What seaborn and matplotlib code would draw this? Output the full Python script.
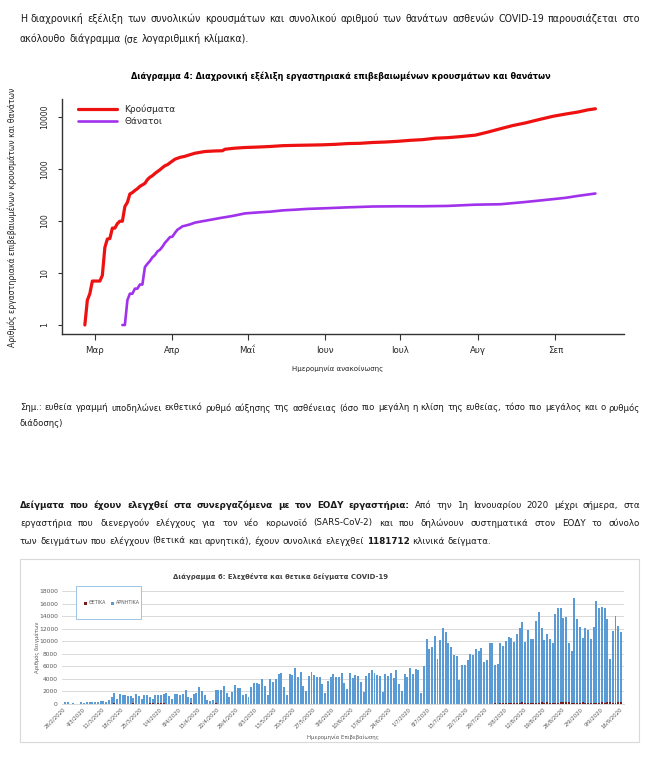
import numpy as np
import pandas as pd
import matplotlib
matplotlib.use('Agg')
import matplotlib.pyplot as plt
from matplotlib.patches import Rectangle
from matplotlib.ticker import NullLocator
import seaborn as sns

# ---- data: chart 4 (cumulative cases / deaths, log scale) ----
cases_dates = ['2020-02-26', '2020-02-27', '2020-02-28', '2020-02-29', '2020-03-01', '2020-03-02',
               '2020-03-03', '2020-03-04', '2020-03-05', '2020-03-06', '2020-03-07', '2020-03-08',
               '2020-03-09', '2020-03-10', '2020-03-11', '2020-03-12', '2020-03-13', '2020-03-14',
               '2020-03-15', '2020-03-16', '2020-03-17', '2020-03-18', '2020-03-19', '2020-03-20',
               '2020-03-21', '2020-03-22', '2020-03-23', '2020-03-24', '2020-03-25', '2020-03-26',
               '2020-03-27', '2020-03-28', '2020-03-29', '2020-03-30', '2020-03-31', '2020-04-02',
               '2020-04-04', '2020-04-06', '2020-04-08', '2020-04-10', '2020-04-14', '2020-04-18',
               '2020-04-21', '2020-04-22', '2020-04-26', '2020-04-30', '2020-05-05', '2020-05-10',
               '2020-05-15', '2020-05-20', '2020-05-25', '2020-05-31', '2020-06-05', '2020-06-10',
               '2020-06-15', '2020-06-20', '2020-06-25', '2020-06-30', '2020-07-05', '2020-07-10',
               '2020-07-15', '2020-07-20', '2020-07-25', '2020-07-31', '2020-08-05', '2020-08-10',
               '2020-08-15', '2020-08-20', '2020-08-25', '2020-08-31', '2020-09-05', '2020-09-10',
               '2020-09-14', '2020-09-17']
cases = [1, 3, 4, 7, 7, 7, 7, 9, 31, 45, 46, 73, 73, 89, 99, 99, 190, 228, 331, 352, 387, 418,
         464, 495, 530, 624, 695, 743, 821, 892, 966, 1061, 1156, 1212, 1314, 1544, 1673, 1755,
         1884, 2011, 2170, 2224, 2245, 2401, 2517, 2591, 2642, 2710, 2810, 2850, 2878, 2917,
         2980, 3083, 3121, 3237, 3302, 3409, 3562, 3672, 3910, 4007, 4193, 4477, 5123, 5942,
         6858, 7684, 8819, 10317, 11386, 12452, 13730, 14400]

deaths_dates = ['2020-03-12', '2020-03-13', '2020-03-14', '2020-03-15', '2020-03-16', '2020-03-17',
                '2020-03-18', '2020-03-19', '2020-03-20', '2020-03-21', '2020-03-22', '2020-03-23',
                '2020-03-24', '2020-03-25', '2020-03-26', '2020-03-27', '2020-03-28', '2020-03-29',
                '2020-03-30', '2020-03-31', '2020-04-01', '2020-04-02', '2020-04-03', '2020-04-04',
                '2020-04-05', '2020-04-06', '2020-04-08', '2020-04-10', '2020-04-13', '2020-04-16',
                '2020-04-20', '2020-04-25', '2020-04-30', '2020-05-05', '2020-05-10', '2020-05-15',
                '2020-05-20', '2020-05-25', '2020-05-31', '2020-06-10', '2020-06-20', '2020-06-30',
                '2020-07-10', '2020-07-20', '2020-07-31', '2020-08-10', '2020-08-20', '2020-08-31',
                '2020-09-05', '2020-09-10', '2020-09-17']
deaths = [1, 1, 3, 4, 4, 5, 5, 6, 6, 13, 15, 17, 20, 22, 26, 28, 32, 38, 43, 49, 50, 59, 68, 73,
          79, 81, 86, 93, 99, 105, 114, 125, 140, 146, 151, 160, 165, 171, 175, 183, 190, 192,
          192, 195, 206, 210, 232, 263, 279, 304, 338]

month_ticks = ['2020-03-01', '2020-04-01', '2020-05-01', '2020-06-01', '2020-07-01', '2020-08-01', '2020-09-01']
month_labels = ['Μαρ', 'Απρ', 'Μαΐ', 'Ιουν', 'Ιουλ', 'Αυγ', 'Σεπ']
log_ticks = [1, 10, 100, 1000, 10000]

# ---- data: chart 6 (daily tests, 26/2 - 16/9) ----
negatives = [
    300, 280, 0, 200, 0, 0, 250, 220, 260, 250, 300, 330, 350, 400, 450,
    380, 600, 1130, 1620, 810, 1570, 1460, 1460, 1300, 1300, 810, 1500, 1300, 650, 1300, 1400,
    1030, 760, 1300, 1300, 1400, 1500, 1730, 1190, 760, 1570, 1570, 1460, 1460, 2100, 1190, 810,
    1620, 1780, 2650, 2100,
    1460, 650, 490, 650, 2000, 2200, 2200, 2900, 1680, 1030, 1950, 3080, 2600, 2600, 1400, 1570,
    1080, 2700, 3350, 3300, 3240, 4000, 2860, 1350, 3900, 3570, 3900, 4700, 4970, 2700, 1460,
    4700, 4540, 5680, 4320, 5130, 2920, 2050, 4380, 5130, 4540, 4320, 4320, 3130, 1730, 3570,
    4320, 4810, 4320, 4220, 4860,
    3360, 2400, 4960, 4100, 4640, 4370, 3570, 1970, 4530, 4960, 5440, 4960, 4530, 4370, 1970,
    4800, 4430, 4960, 4160, 5440, 3200, 2080, 4800, 4270, 5760, 4800, 5600, 5330, 1760, 5970,
    10300, 8800, 9000, 10770, 7200, 10240, 12160, 11360, 9760, 9070, 7840, 7570, 3840, 6130,
    6240, 7040, 8000, 7730, 8800, 8430, 8800, 6670, 6930, 9600,
    9600, 6130, 6290, 9600, 9230, 9870, 10560, 10400, 9760, 10930, 12000, 12800, 9760, 11570,
    10080, 10080, 12960, 14560, 11840, 9970, 10830, 10130, 9440, 14130, 15090, 14930, 13490,
    13490, 9490, 8270, 16690, 13330, 12110, 10290, 11890, 11630, 10130, 12110, 16270, 15040,
    15040, 15040, 13230, 6930, 11470, 13870, 12110, 11090,
]
positives = [
    1, 2, 1, 0, 3, 0, 0, 2, 22, 14, 21, 7, 11, 5, 10, 18, 73, 38, 103, 21, 35,
    31, 46, 31, 35, 94, 71, 48, 78, 71, 74, 95, 95, 56, 102, 101, 129, 69, 60, 62, 20, 77,
    52, 71, 56, 0, 103, 25, 22, 24, 29, 40, 22, 27, 10, 156, 0, 60, 10, 15, 11, 12, 14,
    25, 15, 21, 9, 9, 4, 10, 15, 16, 11, 10, 6, 16, 12, 3, 25, 10, 5, 6, 9, 4,
    3, 4, 3, 5, 0, 10, 9, 3, 3, 10, 2, 1, 15, 4, 35, 17, 4, 55, 3, 0, 6,
    30, 23, 12, 7, 9, 1, 1, 29, 24, 30, 20, 17, 6, 4, 16, 21, 10, 19, 25, 6, 15,
    7, 43, 24, 11, 8, 12, 18, 13, 21, 9, 30, 26, 15, 35, 24, 44, 27, 23, 27, 15, 31,
    34, 30, 28, 35, 36, 42, 26, 41, 78, 50, 110, 41, 121, 80, 124, 123, 153, 151, 203, 126, 262,
    168, 176, 230, 217, 211, 158, 269, 193, 284, 228, 202, 177, 163, 293,
    250, 293, 246, 185, 165, 202, 156, 244, 198, 163, 168, 183, 99, 203,
    372, 211, 250, 273, 159, 222, 345, 338,
]
test_days = pd.date_range('2020-02-26', '2020-09-16', freq='D')
test_labels = [f'{d.day}/{d.month}/{d.year}' for d in test_days]
test_ticks = [0, 18000, 2000]

# ---- page text ----
intro = [('Η διαχρονική εξέλιξη των συνολικών κρουσμάτων και συνολικού αριθμού των θανάτων '
          'ασθενών COVID-19 παρουσιάζεται στο', 'normal')]
intro2 = [('ακόλουθο διάγραμμα (σε λογαριθμική κλίμακα).', 'normal')]
note1 = [('Σημ.: ευθεία γραμμή υποδηλώνει εκθετικό ρυθμό αύξησης της ασθένειας (όσο πιο μεγάλη η '
          'κλίση της ευθείας, τόσο πιο μεγάλος και ο ρυθμός', 'normal')]
note2 = [('διάδοσης)', 'normal')]
para1 = [('Δείγματα που έχουν ελεγχθεί στα συνεργαζόμενα με τον ΕΟΔΥ εργαστήρια:', 'bold'),
         ('Από την 1η Ιανουαρίου 2020 μέχρι σήμερα, στα', 'normal')]
para2 = [('εργαστήρια που διενεργούν ελέγχους για τον νέο κορωνοϊό (SARS-CoV-2) και που δηλώνουν '
          'συστηματικά στον ΕΟΔΥ το σύνολο', 'normal')]
para3 = [('των δειγμάτων που ελέγχουν (θετικά και αρνητικά), έχουν συνολικά ελεγχθεί', 'normal'),
         ('1181712', 'bold'), ('κλινικά δείγματα.', 'normal')]

RED = '#ee1111'
PURPLE = '#a032ec'
BLUE = '#5b9bd5'
DARKRED = '#7b1c1c'
TXT = '#1a1a1a'
XLGRAY = '#595959'

sns.set_theme(style='white')
plt.rcParams['font.family'] = ['DejaVu Sans']

W, H = 648, 768
fig = plt.figure(figsize=(W / 100, H / 100), dpi=100)
renderer = fig.canvas.get_renderer()


def fy(y):
    return 1 - y / H


def box(left, top, right, bottom):
    return [left / W, 1 - bottom / H, (right - left) / W, (bottom - top) / H]


def split_words(segments):
    words = []
    for s, wt in segments:
        words += [(w, wt) for w in s.split()]
    return words


def space_width(size):
    a = fig.text(0, 0, 'a a', fontsize=size)
    b = fig.text(0, 0, 'aa', fontsize=size)
    gap = a.get_window_extent(renderer).width - b.get_window_extent(renderer).width
    a.remove()
    b.remove()
    return gap


def block_size(segments, target, size=10):
    # font size for which the line's natural width equals target
    words = split_words(segments)
    total = 0
    for w, wt in words:
        t = fig.text(0, 0, w, fontsize=size, fontweight=wt)
        total += t.get_window_extent(renderer).width
        t.remove()
    total += space_width(size) * (len(words) - 1)
    return size * target / total


def text_line(segments, y, justify, size, x0=20, x1=640):
    words = split_words(segments)
    arts, widths = [], []
    for w, wt in words:
        t = fig.text(0, fy(y), w, fontsize=size, fontweight=wt, va='center', color=TXT)
        arts.append(t)
        widths.append(t.get_window_extent(renderer).width)
    if justify:
        gap = (x1 - x0 - sum(widths)) / (len(words) - 1)
    else:
        gap = space_width(size)
    x = x0
    for t, w in zip(arts, widths):
        t.set_x(x / W)
        x += w + gap


def fit_text(s, xc, y, length, size=7, rotation=0, **kw):
    t = fig.text(xc / W, fy(y), s, fontsize=size, rotation=rotation, ha='center', va='center', **kw)
    ext = t.get_window_extent(renderer)
    cur = ext.height if rotation == 90 else ext.width
    t.set_fontsize(size * length / cur)
    return t


# ---- text blocks ----
s_intro = block_size(intro, 610)
text_line(intro, 19, True, s_intro)
text_line(intro2, 39, False, s_intro)
s_note = block_size(note1, 612)
text_line(note1, 408, True, s_note)
text_line(note2, 424, False, s_note)
s_para = block_size(para3, 468)
text_line(para1, 505, True, s_para)
text_line(para2, 523, True, s_para)
text_line(para3, 541, False, s_para)

# ---- chart 4 ----
ax1 = fig.add_axes(box(62, 99, 624, 334))
sns.lineplot(x=pd.to_datetime(cases_dates), y=cases, color=RED, lw=2.3, label='Κρούσματα', ax=ax1)
sns.lineplot(x=pd.to_datetime(deaths_dates), y=deaths, color=PURPLE, lw=1.9, label='Θάνατοι', ax=ax1)
ax1.set_yscale('log')
ax1.set_ylim(0.671, 22200)
ax1.set_xlim(pd.Timestamp('2020-02-16 21:00'), pd.Timestamp('2020-09-28 10:00'))
ax1.set_yticks(log_ticks)
ax1.set_yticklabels([str(v) for v in log_ticks], rotation=90, va='center')
ax1.yaxis.set_minor_locator(NullLocator())
ax1.set_xticks(pd.to_datetime(month_ticks))
ax1.set_xticklabels(month_labels)
ax1.tick_params(axis='y', length=3, width=0.8, pad=6, labelsize=5.6, color='#333333', left=True)
ax1.tick_params(axis='x', length=4, width=0.8, pad=5, labelsize=6.2, color='#333333', bottom=True)
for side in ['top', 'right']:
    ax1.spines[side].set_visible(False)
for side in ['left', 'bottom']:
    ax1.spines[side].set_color('#333333')
    ax1.spines[side].set_linewidth(1.0)
ax1.legend(loc='upper left', bbox_to_anchor=(74 / W, fy(101)), bbox_transform=fig.transFigure,
           frameon=False, fontsize=6.5, handlelength=4.4, handletextpad=0.8, labelspacing=0.35,
           borderaxespad=0)
ax1.set_xlabel('')
ax1.set_ylabel('')
fit_text('Διάγραμμα 4: Διαχρονική εξέλιξη εργαστηριακά επιβεβαιωμένων κρουσμάτων και θανάτων',
         341, 76, 423, fontweight='bold', color='black')
fit_text('Αριθμός εργαστηριακά επιβεβαιωμένων κρουσμάτων και θανάτων', 12, 217, 262,
         rotation=90, color='#222222')
fit_text('Ημερομηνία ανακοίνωσης', 338, 369, 92, color='#222222')

# ---- chart 6 ----
fig.patches.append(Rectangle((20 / W, fy(742)), 619 / W, 183 / H, transform=fig.transFigure,
                             fill=False, edgecolor='#d9d9d9', lw=0.8))
ax2 = fig.add_axes(box(62, 591, 624, 704))
df = pd.DataFrame({'date': test_labels, 'neg': negatives, 'pos': positives})
df['total'] = df['neg'] + df['pos']
sns.barplot(data=df, x='date', y='total', color=BLUE, saturation=1, width=0.72,
            errorbar=None, linewidth=0, ax=ax2)
sns.barplot(data=df, x='date', y='pos', color=DARKRED, saturation=1, width=0.72,
            errorbar=None, linewidth=0, ax=ax2)
ax2.set_xlim(-1.1, 204.1)
ax2.set_ylim(0, 18000)
ax2.set_yticks(range(test_ticks[0], test_ticks[1] + 1, test_ticks[2]))
ax2.set_xticks(range(0, len(test_labels), 7))
ax2.set_xticklabels(test_labels[::7], rotation=45, ha='right', va='center', rotation_mode='anchor')
ax2.tick_params(axis='x', length=0, pad=3, labelsize=3.9, labelcolor=XLGRAY)
ax2.tick_params(axis='y', length=0, pad=3, labelsize=4.3, labelcolor=XLGRAY)
ax2.grid(axis='y', color='#d9d9d9', lw=0.7)
ax2.set_axisbelow(True)
for side in ['top', 'right', 'left']:
    ax2.spines[side].set_visible(False)
ax2.spines['bottom'].set_color('#d9d9d9')
ax2.spines['bottom'].set_linewidth(0.7)
ax2.set_xlabel('')
ax2.set_ylabel('')
fit_text('Διάγραμμα 6: Ελεχθέντα και θετικα δείγματα COVID-19', 281, 577, 214,
         fontweight='bold', color='#404040')
fit_text('Αριθμός δειγμάτων', 37, 647, 51, rotation=90, color=XLGRAY)
fit_text('Ημερομηνία Επιβεβαίωσης', 343, 737, 73, color=XLGRAY)

# legend box drawn like the Excel one
fig.patches.append(Rectangle((76 / W, fy(619)), 65 / W, 33 / H, transform=fig.transFigure,
                             facecolor='white', edgecolor='#9dc3e6', lw=0.7, zorder=5))
fig.patches.append(Rectangle((84 / W, fy(604.5)), 3 / W, 3 / H, transform=fig.transFigure,
                             facecolor=DARKRED, edgecolor='none', zorder=6))
fig.patches.append(Rectangle((111 / W, fy(604.5)), 3 / W, 3 / H, transform=fig.transFigure,
                             facecolor=BLUE, edgecolor='none', zorder=6))
fig.text(88.5 / W, fy(603), 'ΘΕΤΙΚΑ', fontsize=3.4, color=XLGRAY, va='center', zorder=6)
fig.text(115.5 / W, fy(603), 'ΑΡΝΗΤΙΚΑ', fontsize=3.4, color=XLGRAY, va='center', zorder=6)

fig.savefig('out.png', dpi=100)
